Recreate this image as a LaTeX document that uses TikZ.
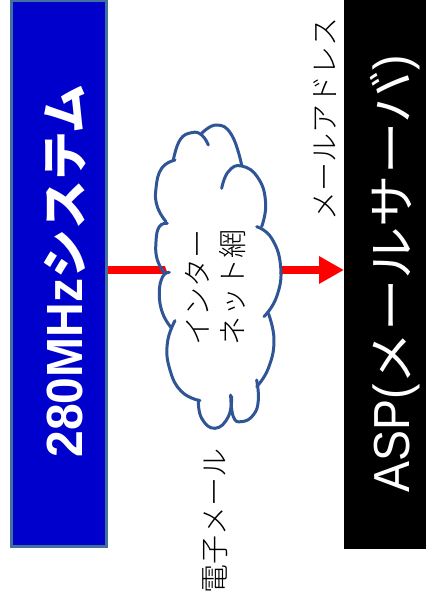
\documentclass[tikz,border=0pt]{standalone}
\usepackage{fontspec}
\usepackage{graphicx}
\setmainfont{Noto Sans CJK JP}
\newfontfamily\latinfont{Liberation Sans}
\newfontfamily\lightfont{Noto Sans CJK JP Light}
\usetikzlibrary{arrows.meta}
\definecolor{edgeblue}{HTML}{2F5597}
\definecolor{boxedge}{HTML}{41719C}
\definecolor{boxblue}{HTML}{0000CC}
\tikzset{
  sysbox/.style={draw=boxedge,line width=3pt,fill=boxblue,minimum width=95pt,minimum height=545pt,inner sep=0pt},
  aspbox/.style={fill=black,minimum width=82pt,minimum height=549pt,inner sep=0pt},
  biglabel/.style={text=white,rotate=90,inner sep=0pt,anchor=base},
  smalllabel/.style={text=black,rotate=90,inner sep=0pt,font=\lightfont\fontsize{29}{32}\selectfont},
  link/.style={draw=red,line width=8.7pt},
  lobe/.style={draw=edgeblue,line width=3pt,line cap=round},
}
\newcommand{\cloudlobe}[1]{\draw[lobe,xshift=140pt,yshift=-110pt,x=0.3333pt,y=-0.3333pt] plot[smooth,tension=0.8] coordinates {#1};}
\newcommand{\latinpart}[1]{\scalebox{1}[1.09]{\fontsize{46.5}{50}\selectfont\latinfont #1}}
\newcommand{\latinboldpart}[1]{\scalebox{1}[1.06]{\fontsize{48}{50}\selectfont\latinfont\bfseries #1}}
\begin{document}
\begin{tikzpicture}[x=1pt,y=-1pt]
\useasboundingbox[fill=white] (0,0) rectangle (426,610);
\node[sysbox] (sys) at (59,273.5) {};
\node[aspbox] (asp) at (385,274.5) {};
\coordinate (mid) at (108,270);
\coordinate (end) at (344,270);
\draw[link,-{Triangle[length=25pt,width=26pt]}] (mid) -- (end);
% cloud
\fill[white,xshift=140pt,yshift=-110pt,x=0.3333pt,y=-0.3333pt]
 (155,68)--(185,72)--(230,45)--(305,165)--(375,270)--(365,350)--(425,470)--(375,620)--(400,690)--(350,830)--(310,935)--(272,870)--(225,955)--(175,870)--(85,740)--(100,640)--(60,560)--(82,487)--(50,400)--(78,338)--(48,240)--(100,148)--cycle;
\cloudlobe{(205,105)(185,75)(155,68)(120,90)(100,150)}
\cloudlobe{(185,70)(230,45)(275,75)(305,165)}
\cloudlobe{(245,235)(265,185)(305,168)(355,205)(377,280)(365,350)}
\cloudlobe{(350,350)(395,385)(422,470)(410,560)(372,620)}
\cloudlobe{(385,610)(402,690)(385,775)(350,830)}
\cloudlobe{(350,810)(355,870)(340,915)(305,935)(280,920)(272,855)}
\cloudlobe{(275,860)(265,920)(225,955)(185,925)(175,870)}
\cloudlobe{(180,872)(125,845)(90,780)(82,700)(105,632)}
\cloudlobe{(95,655)(68,610)(58,550)(68,500)(88,487)}
\cloudlobe{(75,490)(52,450)(48,395)(58,350)(82,340)}
\cloudlobe{(78,335)(52,290)(48,235)(65,175)(105,150)}
\node[biglabel] (l1) at (82,271) {\latinboldpart{280MHz}\scalebox{1.03}[1]{\bfseries\fontsize{47.5}{50}\selectfont システム}};
\node[biglabel] (l2) at (409,274) {\latinpart{ASP(}\scalebox{1.09}[1]{\fontsize{48}{50}\selectfont メールサーバ}\latinpart{)}};
\node[smalllabel] (l3) at (325,119) {メールアドレス};
\node[smalllabel] (l4) at (215,521) {電子メール};
\node[smalllabel] (l5) at (197,287) {インター};
\node[smalllabel] (l6) at (232,287) {ネット網};
\end{tikzpicture}
\end{document}
